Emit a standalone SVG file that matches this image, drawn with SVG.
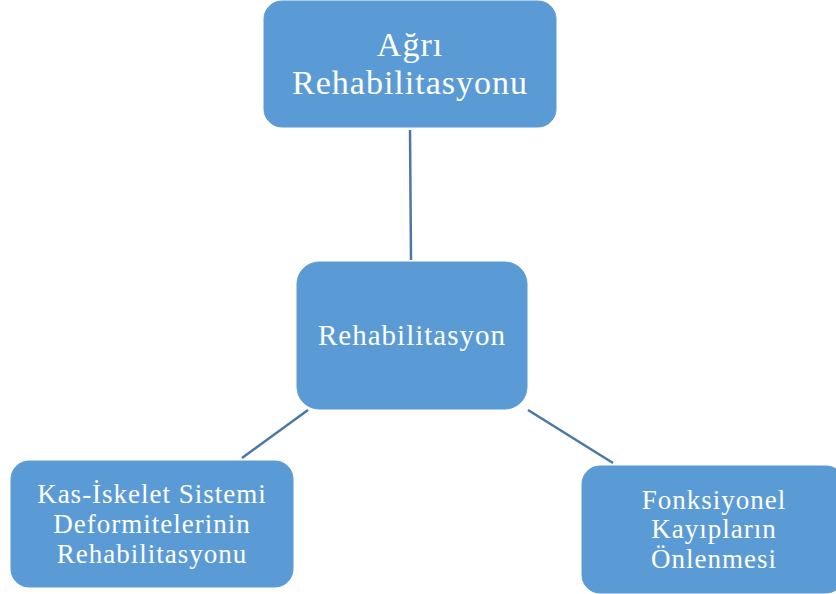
<svg xmlns="http://www.w3.org/2000/svg" width="836" height="594" viewBox="0 0 836 594">
<style>
.box{fill:#5B9BD5;stroke:#5B9BD5;stroke-width:1}
.t{font-family:"Liberation Serif","Times New Roman",serif;fill:#ffffff;text-anchor:middle;letter-spacing:1px}
.c{stroke:#4A77A8;stroke-width:2.5;fill:none}
</style>
<rect width="836" height="594" fill="#ffffff"/>
<g id="connectors">
<line class="c" x1="410" y1="130" x2="411" y2="260"/>
<line class="c" x1="308" y1="410" x2="242" y2="458"/>
<line class="c" x1="528" y1="410" x2="613" y2="463"/>
</g>
<g id="agri">
<rect class="box" x="264" y="1" width="292" height="126" rx="18"/>
<text class="t" font-size="34" x="410" y="56">Ağrı</text>
<text class="t" font-size="34" x="410" y="94">Rehabilitasyonu</text>
</g>
<g id="rehab">
<rect class="box" x="297" y="262" width="230" height="147" rx="22"/>
<text class="t" font-size="29" x="412" y="345">Rehabilitasyon</text>
</g>
<g id="kas">
<rect class="box" x="11" y="461" width="282" height="126" rx="18"/>
<text class="t" font-size="27" x="152" y="503">Kas-İskelet Sistemi</text>
<text class="t" font-size="27" x="152" y="533">Deformitelerinin</text>
<text class="t" font-size="27" x="152" y="563">Rehabilitasyonu</text>
</g>
<g id="fonk">
<rect class="box" x="582" y="466" width="262" height="127" rx="18"/>
<text class="t" font-size="27" x="714" y="509">Fonksiyonel</text>
<text class="t" font-size="27" x="714" y="538">Kayıpların</text>
<text class="t" font-size="27" x="714" y="568">Önlenmesi</text>
</g>
</svg>
